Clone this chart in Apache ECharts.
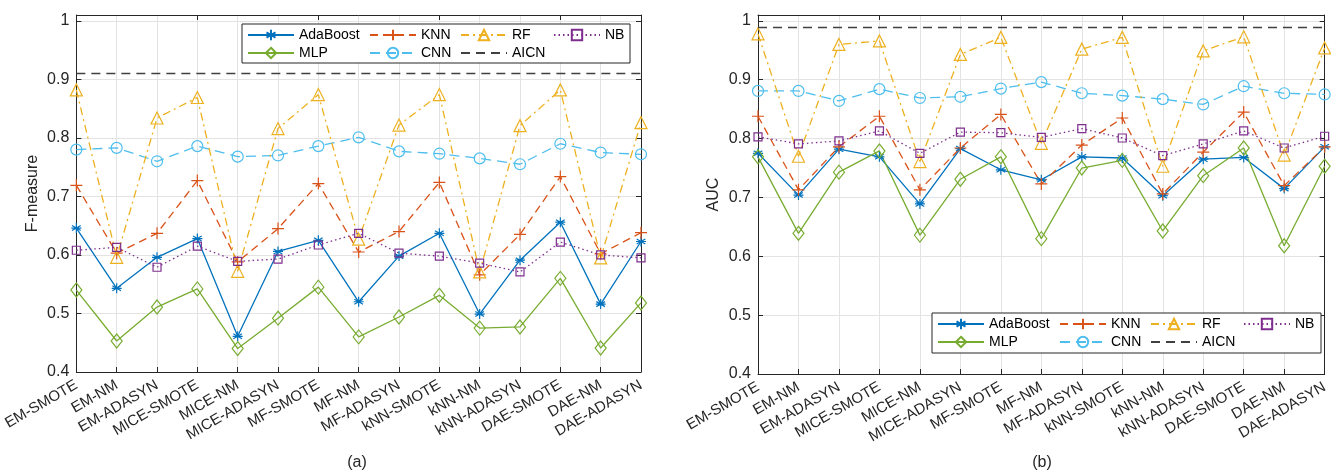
<!DOCTYPE html>
<html>
<head>
<meta charset="utf-8">
<script src="https://cdn.jsdelivr.net/npm/echarts@6/dist/echarts.min.js"></script>
<style>
  html, body { margin: 0; background: #fff; }
  #chart { width: 1331px; height: 472px; }
</style>
</head>
<body>
<div id="chart"></div>
<script>
const categories = ['EM-SMOTE', 'EM-NM', 'EM-ADASYN', 'MICE-SMOTE', 'MICE-NM', 'MICE-ADASYN',
  'MF-SMOTE', 'MF-NM', 'MF-ADASYN', 'kNN-SMOTE', 'kNN-NM', 'kNN-ADASYN', 'DAE-SMOTE', 'DAE-NM', 'DAE-ADASYN'];
const yTickLabels = ['0.4', '0.5', '0.6', '0.7', '0.8', '0.9', '1'];

// (a) F-measure
const f1AdaBoost = [0.646, 0.543, 0.596, 0.628, 0.461, 0.606, 0.625, 0.520, 0.598, 0.637, 0.499, 0.591, 0.656, 0.516, 0.623];
const f1MLP      = [0.540, 0.453, 0.511, 0.542, 0.440, 0.492, 0.545, 0.460, 0.494, 0.531, 0.475, 0.477, 0.560, 0.441, 0.518];
const f1KNN      = [0.719, 0.603, 0.637, 0.727, 0.588, 0.645, 0.722, 0.605, 0.640, 0.724, 0.566, 0.635, 0.734, 0.602, 0.638];
const f1CNN      = [0.780, 0.783, 0.760, 0.786, 0.768, 0.770, 0.786, 0.801, 0.777, 0.773, 0.765, 0.755, 0.790, 0.775, 0.772];
const f1RF       = [0.882, 0.596, 0.834, 0.869, 0.572, 0.816, 0.874, 0.627, 0.822, 0.874, 0.571, 0.821, 0.882, 0.595, 0.826];
const f1NB       = [0.608, 0.613, 0.579, 0.615, 0.589, 0.593, 0.617, 0.637, 0.603, 0.598, 0.586, 0.571, 0.622, 0.600, 0.595];
const f1AICN = 0.911;

// (b) AUC
const aucAdaBoost = [0.775, 0.704, 0.782, 0.769, 0.689, 0.783, 0.747, 0.730, 0.769, 0.767, 0.703, 0.765, 0.768, 0.715, 0.786];
const aucMLP      = [0.769, 0.639, 0.743, 0.779, 0.636, 0.731, 0.769, 0.630, 0.750, 0.763, 0.643, 0.737, 0.784, 0.618, 0.753];
const aucKNN      = [0.838, 0.713, 0.786, 0.838, 0.713, 0.784, 0.841, 0.723, 0.789, 0.835, 0.706, 0.777, 0.845, 0.720, 0.786];
const aucCNN      = [0.881, 0.881, 0.864, 0.884, 0.869, 0.871, 0.885, 0.896, 0.877, 0.873, 0.867, 0.858, 0.889, 0.877, 0.875];
const aucRF       = [0.978, 0.770, 0.960, 0.966, 0.761, 0.943, 0.972, 0.792, 0.952, 0.972, 0.753, 0.949, 0.973, 0.772, 0.954];
const aucNB       = [0.803, 0.791, 0.796, 0.813, 0.775, 0.811, 0.810, 0.802, 0.817, 0.801, 0.771, 0.791, 0.813, 0.784, 0.804];
const aucAICN = 0.987;

const FONT = '"Liberation Sans", Arial, Helvetica, sans-serif';
const AXIS = '#262626';
const GRID = '#e3e3e3';

const asterisk = 'path://M0,-10L0,10M-8.66,-5L8.66,5M-8.66,5L8.66,-5M-10,0L10,0';
const plus = 'path://M0,-10L0,10M-10,0L10,0';

const styles = {
  AdaBoost: { color: '#0072BD', type: 'solid', symbol: asterisk, size: 10, hollow: false },
  MLP:      { color: '#77AC30', type: 'solid', symbol: 'diamond', size: [11, 14], hollow: true },
  KNN:      { color: '#D95319', type: [8, 5], symbol: plus, size: 12, hollow: false },
  CNN:      { color: '#4DBEEE', type: [10, 6], symbol: 'circle', size: 11, hollow: true },
  RF:       { color: '#EDB120', type: [8, 4, 2, 4], symbol: 'triangle', size: 12, hollow: true },
  AICN:     { color: '#404040', type: [9, 6], symbol: 'none' },
  NB:       { color: '#7E2F8E', type: [1.5, 3], symbol: 'rect', size: 8, hollow: true }
};

function buildSeries(idx, vals, aicn) {
  const out = [];
  Object.keys(styles).forEach(name => {
    const s = styles[name];
    const ser = {
      name, type: 'line', xAxisIndex: idx * 2, yAxisIndex: idx * 2,
      clip: false, silent: true,
      lineStyle: { color: s.color, width: 1.3, type: s.type }
    };
    if (name === 'AICN') {
      ser.data = [];
      ser.symbol = 'none';
      ser.itemStyle = { color: s.color };
      ser.markLine = {
        silent: true, symbol: ['none', 'none'], label: { show: false },
        lineStyle: { color: s.color, width: 1.3, type: s.type },
        data: [{ yAxis: aicn }]
      };
    } else {
      ser.data = vals[name];
      ser.symbol = s.symbol;
      ser.symbolSize = s.size;
      ser.itemStyle = {
        color: s.hollow ? 'rgba(255,255,255,0)' : s.color,
        borderColor: s.color, borderWidth: 1.2
      };
    }
    out.push(ser);
  });
  return out;
}

function xAxes(idx) {
  return [
    {
      type: 'category', gridIndex: idx, data: categories, boundaryGap: false, position: 'bottom',
      axisLine: { lineStyle: { color: AXIS, width: 1 } },
      axisTick: { inside: true, length: 5, lineStyle: { color: AXIS } },
      axisLabel: { rotate: 30, margin: 12, color: AXIS, fontSize: 15, fontFamily: FONT, interval: 0 },
      splitLine: { show: true, lineStyle: { color: GRID, width: 1 } }
    },
    {
      type: 'category', gridIndex: idx, data: categories, boundaryGap: false, position: 'top',
      axisLine: { lineStyle: { color: AXIS, width: 1 } },
      axisTick: { inside: true, length: 5, lineStyle: { color: AXIS } },
      axisLabel: { show: false }, splitLine: { show: false }
    }
  ];
}

function yAxes(idx, name) {
  const common = { type: 'value', gridIndex: idx, min: 0.4, max: 1.01, interval: 0.1 };
  return [
    Object.assign({}, common, {
      position: 'left', name, nameLocation: 'middle', nameGap: 36,
      nameTextStyle: { color: AXIS, fontSize: 16, fontFamily: FONT },
      axisLine: { show: true, lineStyle: { color: AXIS, width: 1 } },
      axisTick: { show: true, inside: true, length: 5, lineStyle: { color: AXIS } },
      axisLabel: {
        color: AXIS, fontSize: 16, fontFamily: FONT, margin: 7,
        formatter: v => {
          const i = Math.round((v - 0.4) / 0.1);
          return (v > 1.001) ? '' : (yTickLabels[i] || '');
        }
      },
      splitLine: { show: true, lineStyle: { color: GRID, width: 1 } }
    }),
    Object.assign({}, common, {
      position: 'right',
      axisLine: { show: true, lineStyle: { color: AXIS, width: 1 } },
      axisTick: { show: true, inside: true, length: 5, lineStyle: { color: AXIS } },
      axisLabel: { show: false }, splitLine: { show: false }
    })
  ];
}

function legends(dx, top) {
  const cols = [[5, ['AdaBoost', 'MLP']], [127, ['KNN', 'CNN']], [218, ['RF', { name: 'AICN', itemStyle: { opacity: 0 } }]], [311, ['NB']]];
  return cols.map(([x, names]) => ({
    orient: 'vertical', left: dx + x, top, data: names,
    itemWidth: 46, itemHeight: 13, itemGap: 4, padding: 0,
    textStyle: { color: '#000', fontSize: 14, fontFamily: FONT, lineHeight: 14, padding: [0, 0, 0, 0] },
    selectedMode: false
  }));
}

const chart = echarts.init(document.getElementById('chart'));

chart.setOption({
  animation: false,
  grid: [
    { left: 74, top: 15, width: 567, height: 357 },
    { left: 758, top: 15, width: 567, height: 359 }
  ],
  xAxis: [...xAxes(0), ...xAxes(1)],
  yAxis: [...yAxes(0, 'F-measure'), ...yAxes(1, 'AUC')],
  legend: [...legends(242, 28), ...legends(932, 317)],
  graphic: [
    { type: 'rect', z: 1, shape: { x: 242, y: 24, width: 388, height: 39 },
      style: { fill: '#fff', stroke: AXIS, lineWidth: 1 } },
    { type: 'rect', z: 1, shape: { x: 932, y: 313, width: 389, height: 40 },
      style: { fill: '#fff', stroke: AXIS, lineWidth: 1 } },
    { type: 'text', x: 357, y: 463, style: { text: '(a)', fill: AXIS, font: '16px ' + FONT, textAlign: 'center', textVerticalAlign: 'middle' } },
    { type: 'text', x: 1042, y: 463, style: { text: '(b)', fill: AXIS, font: '16px ' + FONT, textAlign: 'center', textVerticalAlign: 'middle' } }
  ],
  series: [
    ...buildSeries(0, { AdaBoost: f1AdaBoost, MLP: f1MLP, KNN: f1KNN, CNN: f1CNN, RF: f1RF, NB: f1NB }, f1AICN),
    ...buildSeries(1, { AdaBoost: aucAdaBoost, MLP: aucMLP, KNN: aucKNN, CNN: aucCNN, RF: aucRF, NB: aucNB }, aucAICN)
  ]
});
</script>
</body>
</html>
